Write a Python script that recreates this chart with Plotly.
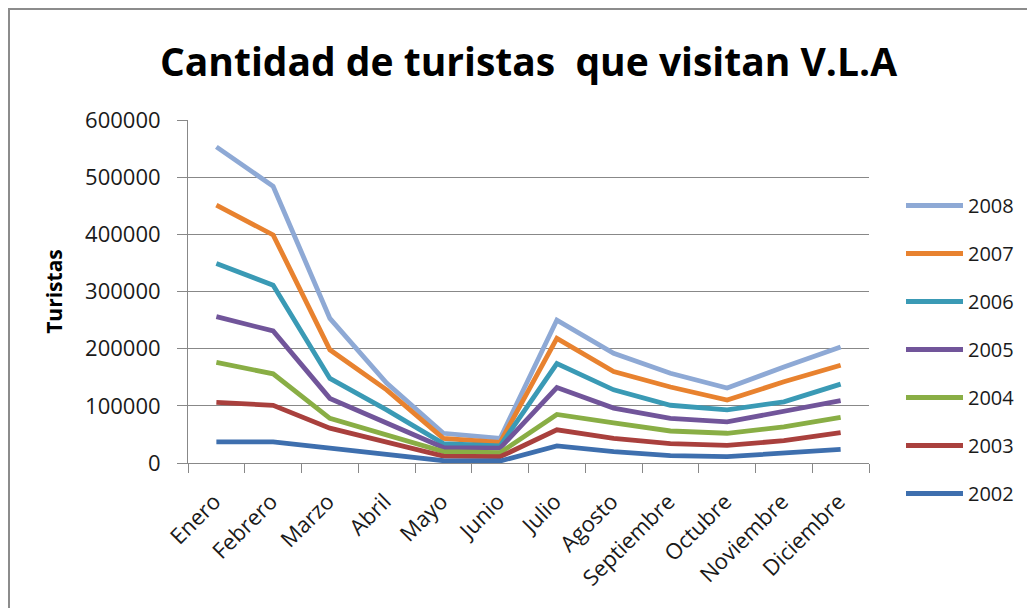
import plotly.graph_objects as go

meses = ["Enero", "Febrero", "Marzo", "Abril", "Mayo", "Junio", "Julio",
         "Agosto", "Septiembre", "Octubre", "Noviembre", "Diciembre"]

anios = ["2008", "2007", "2006", "2005", "2004", "2003", "2002"]

v2008 = [553000, 484000, 253000, 140000, 52000, 43000, 250000, 192000, 157000, 131000, 168000, 203000]
v2007 = [451000, 399000, 198000, 128000, 43000, 36000, 218000, 160000, 133000, 110000, 142000, 171000]
v2006 = [349000, 311000, 148000, 93000, 34000, 30000, 174000, 128000, 101000, 93000, 107000, 138000]
v2005 = [256000, 231000, 113000, 69000, 27000, 26000, 132000, 96000, 78000, 72000, 90000, 109000]
v2004 = [176000, 156000, 78000, 49000, 20000, 18000, 85000, 70000, 56000, 52000, 63000, 80000]
v2003 = [106000, 101000, 61000, 37000, 12000, 11000, 58000, 43000, 34000, 31000, 39000, 53000]
v2002 = [37000, 37000, 26000, 14000, 4000, 3500, 30000, 20000, 13000, 11000, 17000, 24000]

series = [v2008, v2007, v2006, v2005, v2004, v2003, v2002]
colores = ["#8EA9D5", "#E8822F", "#3A9AB5", "#71559A", "#89AE45", "#A9403D", "#3E6FAE"]

FONT = "Open Sans"

# page body adds an 8px offset; margins compensate so plot area sits at x 188-869, y 120-463
L, T, PW, PH = 180, 112, 681, 343
W, H = 1035, 608

fig = go.Figure()
for anio, vals, col in zip(anios, series, colores):
    fig.add_trace(go.Scatter(
        x=meses, y=vals, name=anio, mode="lines",
        line=dict(color=col, width=4.8),
        legendgroup=anio,
    ))

fig.update_layout(
    width=W, height=H,
    paper_bgcolor="white", plot_bgcolor="white",
    margin=dict(l=L, r=W - L - PW, t=T, b=H - T - PH, autoexpand=False),
    font=dict(family=FONT, size=20, color="#1a1a1a"),
    title=dict(text="<b>Cantidad de turistas  que visitan V.L.A</b>",
               x=0.5, xref="paper", xanchor="center",
               y=1 - 54/H, yref="container", yanchor="middle",
               font=dict(family=FONT, size=39, color="black")),
    showlegend=True,
    legend=dict(x=(901 - 8 - L) / PW, y=(T + PH - (186 - 8)) / PH,
                xanchor="left", yanchor="top",
                font=dict(family=FONT, size=20, color="#1a1a1a"),
                tracegroupgap=19, itemwidth=57, bgcolor="rgba(0,0,0,0)"),
    shapes=[dict(type="rect", xref="paper", yref="paper",
                 x0=(1 - L) / PW, x1=(W + 20 - L) / PW,
                 y0=(T + PH - (H + 20)) / PH, y1=(T + PH - 1) / PH,
                 line=dict(color="#8c8c8c", width=2), fillcolor="rgba(0,0,0,0)",
                 layer="below")],
)

fig.update_xaxes(
    type="category", range=[-0.5, len(meses) - 0.5],
    tickson="boundaries", ticks="outside", ticklen=9,
    tickcolor="#888888", showline=True, linecolor="#888888", linewidth=1,
    showgrid=False, tickangle=-45, tickfont=dict(size=22), automargin=False,
    ticklabelstandoff=16, ticklabelshift=-2,
)
fig.update_yaxes(
    range=[0, 600000], dtick=100000, tickformat="d",
    ticks="outside", ticklen=10, tickcolor="#888888",
    showline=True, linecolor="#888888", linewidth=1,
    showgrid=True, gridcolor="#888888", gridwidth=1,
    zeroline=False, tickfont=dict(size=22), automargin=False,
    ticklabelstandoff=12,
    title=dict(text="<b>Turistas</b>", font=dict(size=21, color="black"), standoff=16),
)

fig.write_html("out.html")
